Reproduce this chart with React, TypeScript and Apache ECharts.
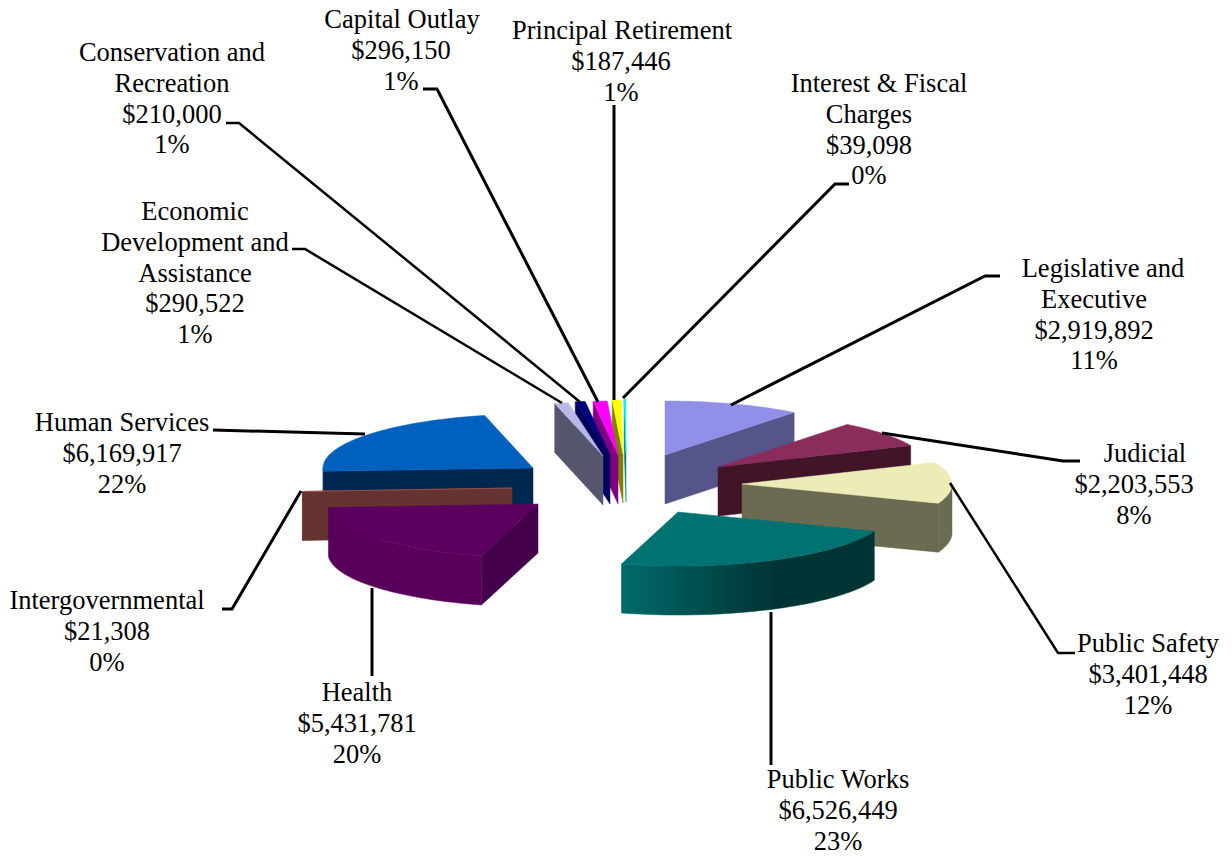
import React, { useEffect, useRef } from "react";
import * as echarts from "echarts";

const categories = [
  ["Legislative and", "Executive"],
  ["Judicial"],
  ["Public Safety"],
  ["Public Works"],
  ["Health"],
  ["Intergovernmental"],
  ["Human Services"],
  ["Economic", "Development and", "Assistance"],
  ["Conservation and", "Recreation"],
  ["Capital Outlay"],
  ["Principal Retirement"],
  ["Interest & Fiscal", "Charges"],
];
const values = [2919892, 2203553, 3401448, 6526449, 5431781, 21308, 6169917, 290522, 210000, 296150, 187446, 39098];
const amountLabels = ["$2,919,892", "$2,203,553", "$3,401,448", "$6,526,449", "$5,431,781", "$21,308", "$6,169,917", "$290,522", "$210,000", "$296,150", "$187,446", "$39,098"];
const percentLabels = ["11%", "8%", "12%", "23%", "20%", "0%", "22%", "1%", "1%", "1%", "1%", "0%"];

// Layout and styling, indexed like the data above
const explodedApex = [[665, 455], [718, 467], [742, 484], [678, 512], [538, 504], [512, 488], [533, 468], [603, 456], [610, 455], [618, 455], [623, 454], [626, 453]];
const topColors = ["#9090E8", "#8A2D5C", "#ECECB8", "#007272", "#5C0060", "#A85850", "#0060BE", "#B9B9E8", "#000080", "#FF00FF", "#FFFF00", "#00FFFF"];
const wallColors = ["#55558A", "#421428", "#6B6B52", "#003333", "#44004A", "#653430", "#00274F", "#55556E", "#00005C", "#800080", "#808000", "#008080"];
const outerColors = ["#55558A", "#421428", "#6B6B52", "#003333", "#580059", "#653430", "#00274F", "#55556E", "#00005C", "#800080", "#808000", "#008080"];
const paintOrder = [6, 5, 4, 11, 10, 9, 8, 7, 0, 1, 2, 3];
const labelCenters = [1103, 1145, 1148, 838, 357, 107, 122, 195, 172, 402, 622, 879];
const detailCenters = [1094, 1134, 1148, 838, 357, 107, 122, 195, 172, 401, 621, 869];
const labelTops = [268, 453, 643, 779, 692, 600, 422, 211, 52, 19, 30, 83];
const leaderLines = [
  { w: 3, p: [[1000, 276], [985, 276], [731, 405]] },
  { w: 3, p: [[1080, 461], [1063, 461], [882, 433]] },
  { w: 2.5, p: [[1075, 653], [1058, 653], [950, 483]] },
  { w: 3, p: [[771, 612], [771, 765]] },
  { w: 3, p: [[372, 588], [372, 676]] },
  { w: 3, p: [[222, 609], [232, 609], [301, 491]] },
  { w: 3, p: [[213, 430], [365, 434]] },
  { w: 2.5, p: [[292, 249], [305, 249], [562, 403]] },
  { w: 2.5, p: [[226, 123], [239, 123], [580, 402]] },
  { w: 3, p: [[423, 89], [437, 89], [598, 402]] },
  { w: 3, p: [[614, 105], [614, 400]] },
  { w: 3, p: [[849, 184], [835, 184], [623, 398]] },
];
const RX = 210;
const RY = 54;
const DEPTH = 49;
const LINE_HEIGHT = 30.8;
const FONT = '26.5px "Liberation Serif", "Times New Roman", serif';

const total = values.reduce((a, b) => a + b, 0);
const startAngles: number[] = [];
values.reduce((sum, v, i) => {
  startAngles[i] = (sum / total) * Math.PI * 2;
  return sum + v;
}, 0);

function rim(i: number, a: number): number[] {
  const [ax, ay] = explodedApex[i];
  return [ax + RX * Math.sin(a), ay - RY * Math.cos(a)];
}

function renderSlice(params: any, api: any) {
  const i = api.value(0) as number;
  const a0 = startAngles[i];
  const a1 = a0 + (values[i] / total) * Math.PI * 2;
  const apex = explodedApex[i];
  const down = (p: number[]) => [p[0], p[1] + DEPTH];
  const children: any[] = [];
  const steps = Math.max(2, Math.ceil((a1 - a0) / 0.03));
  const arc: number[][] = [];
  for (let s = 0; s <= steps; s++) arc.push(rim(i, a0 + ((a1 - a0) * s) / steps));

  const face = (points: number[][], fill: any) =>
    children.push({ type: "polygon", shape: { points }, style: { fill, stroke: fill, lineWidth: 0.5 } });

  // radial walls facing the viewer
  if (Math.sin(a0) < 0) {
    const p = rim(i, a0);
    face([apex, p, down(p), down(apex)], wallColors[i]);
  }
  if (Math.sin(a1) > 0) {
    const p = rim(i, a1);
    face([apex, p, down(p), down(apex)], wallColors[i]);
  }
  // the visible part of the outer rim
  const front = arc.filter((_, s) => Math.cos(a0 + ((a1 - a0) * s) / steps) <= 0.02);
  if (front.length > 1) {
    const fill =
      i === 3
        ? new echarts.graphic.LinearGradient(0, 0, 1, 0, [
            { offset: 0, color: "#006A6A" },
            { offset: 0.62, color: "#003333" },
            { offset: 1, color: "#003333" },
          ])
        : outerColors[i];
    face([...front, ...front.slice().reverse().map(down)], fill);
  }
  face([apex, ...arc], topColors[i]);
  return { type: "group", children };
}

export default function App() {
  const ref = useRef<HTMLDivElement>(null);
  useEffect(() => {
    const chart = echarts.init(ref.current!, undefined, { renderer: "svg" });
    const graphic: any[] = [];
    leaderLines.forEach((l) =>
      graphic.push({
        type: "polyline",
        z: 10,
        shape: { points: l.p },
        style: { stroke: "#000", lineWidth: l.w, fill: "none" },
      })
    );
    categories.forEach((lines, i) => {
      [...lines, amountLabels[i], percentLabels[i]].forEach((text, k) =>
        graphic.push({
          type: "text",
          z: 11,
          x: k === 0 ? labelCenters[i] : detailCenters[i],
          y: labelTops[i] + k * LINE_HEIGHT,
          style: { text, font: FONT, fill: "#000", textAlign: "center", textVerticalAlign: "middle" },
        })
      );
    });
    chart.setOption({
      animation: false,
      backgroundColor: "#fff",
      graphic,
      series: [
        {
          type: "custom",
          coordinateSystem: "none",
          silent: true,
          renderItem: renderSlice,
          data: paintOrder.map((i) => [i, values[i]]),
        },
      ],
    });
    return () => chart.dispose();
  }, []);
  return <div ref={ref} style={{ position: "absolute", left: 0, top: 0, width: 1232, height: 857 }} />;
}
